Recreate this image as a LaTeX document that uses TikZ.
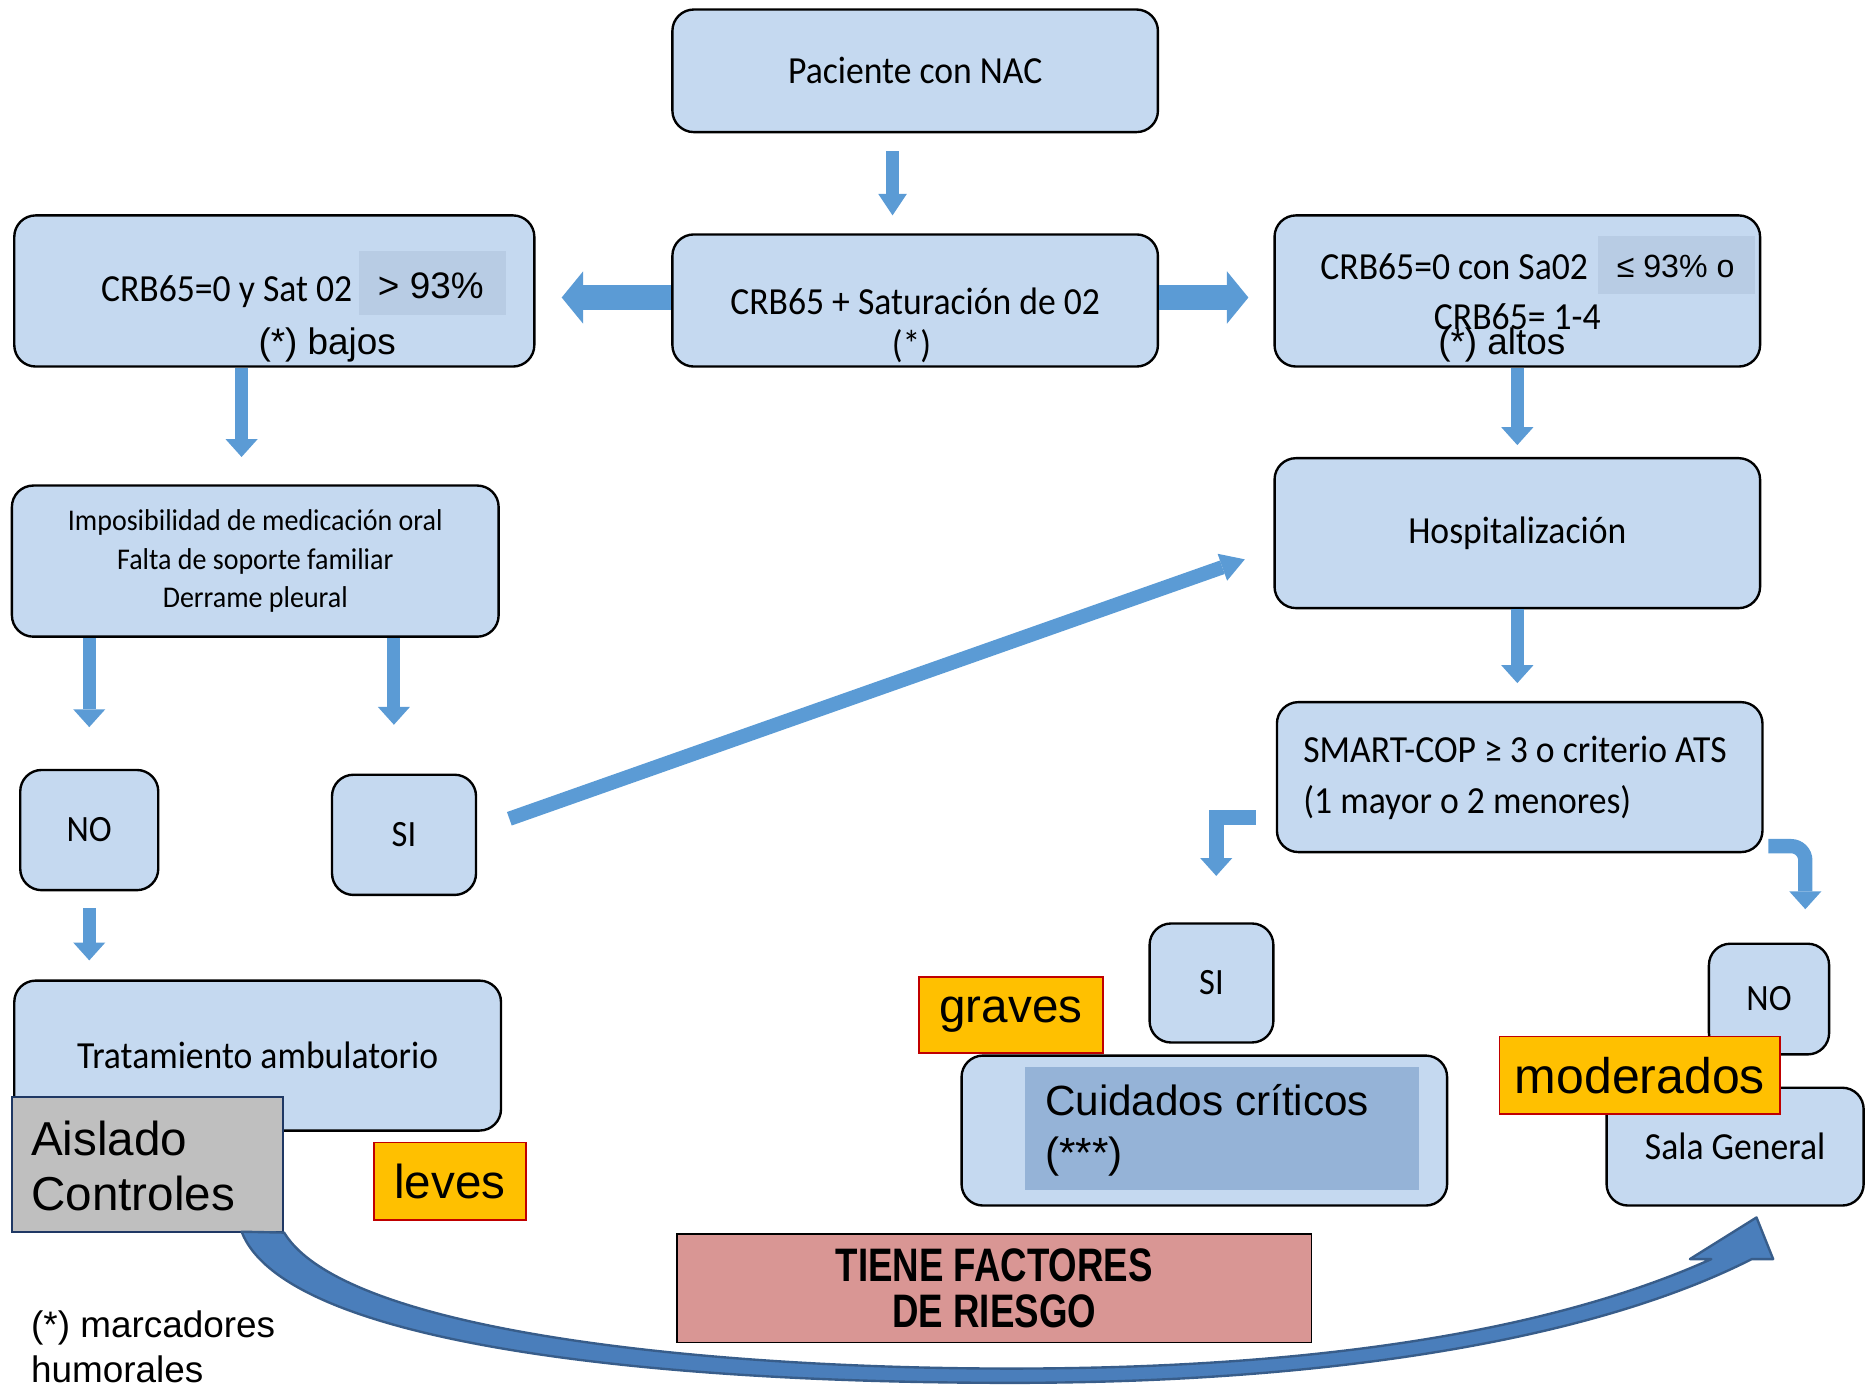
\documentclass[tikz,border=0pt]{standalone}
\usepackage{fontspec}
\setmainfont{Liberation Sans}
\newfontfamily\calfont{Carlito}[FakeStretch=0.93]
\newfontfamily\narrowbold{Liberation Sans}[FakeStretch=0.78]
\usetikzlibrary{arrows.meta,calc}
\definecolor{boxblue}{RGB}{197,217,240}
\definecolor{hiblue}{RGB}{184,204,228}
\definecolor{inblue}{RGB}{149,179,215}
\definecolor{arrblue}{RGB}{91,155,213}
\definecolor{bigblue}{RGB}{74,126,187}
\definecolor{bigedge}{RGB}{56,93,138}
\definecolor{orangefill}{RGB}{255,192,0}
\definecolor{redline}{RGB}{192,0,0}
\definecolor{grayfill}{RGB}{191,191,191}
\definecolor{navyline}{RGB}{31,56,100}
\definecolor{rosefill}{RGB}{217,150,148}
\newcommand{\fsz}[2]{\fontsize{#1}{#2}\selectfont}
\tikzset{
 box/.style={draw=black, line width=2pt, fill=boxblue, rounded corners=18pt, inner sep=0pt, align=center, font=\calfont\fsz{32.2}{38}},
 ctxt/.style={inner sep=0pt, font=\calfont\fsz{32.2}{38}},
 atxt/.style={inner sep=0pt, font=\fsz{31}{37}},
 tag/.style={draw=redline, line width=1.5pt, fill=orangefill, inner sep=0pt, font=\fsz{40}{48}},
 barrow/.style={draw=arrblue, line width=11pt, -{Triangle[width=27pt,length=15pt,line width=0pt]}},
 harrow/.style={draw=arrblue, line width=21pt, -{Triangle[width=44pt,length=18pt,line width=0pt]}},
}
\begin{document}
\begin{tikzpicture}[x=1pt,y=-1pt]
\useasboundingbox (0,0) rectangle (1568,1167);

% top
\node[box, minimum width=408pt, minimum height=103pt] (pac) at (769,59.5) {Paciente con NAC};
\node[box, minimum width=408pt, minimum height=111pt] (crb) at (769,252.5) {};
\node[ctxt] (crbt) at (769,253) {CRB65 + Saturación de 02};
\node[ctxt] (crbs) at (766,291) {(*)};

% left CRB box
\node[box, minimum width=437pt, minimum height=127pt] (lbox) at (230.5,244.5) {};
\node[fill=hiblue, minimum width=123pt, minimum height=54pt, inner sep=0pt] (lhi) at (363.5,238) {};
\node[ctxt] (lt1) at (190.5,245) {CRB65=0 y Sat 02};
\node[atxt] (lt2) at (362,240) {> 93\%};
\node[atxt] (lt3) at (275,290) {(*) bajos};

% right CRB box
\node[box, minimum width=408pt, minimum height=127pt] (rbox) at (1275,244.5) {};
\node[fill=hiblue, minimum width=132pt, minimum height=49pt, inner sep=0pt] (rhi) at (1409,222.5) {};
\node[ctxt] (rt1) at (1222,224) {CRB65=0 con Sa02};
\node[inner sep=0pt, font=\fsz{27}{32}] (rt2) at (1408,224) {≤ 93\% o};
\node[ctxt] (rt3) at (1275,266) {CRB65= 1-4};
\node[atxt] (rt4) at (1262,290) {(*) altos};

% second row
\node[box, minimum width=409pt, minimum height=127pt, font=\calfont\fsz{25.3}{32.5}] (imp) at (214.5,471.5) {Imposibilidad de medicación oral\\Falta de soporte familiar\\Derrame pleural};
\node[box, minimum width=408pt, minimum height=126pt] (hosp) at (1275,448) {Hospitalización};
\node[box, minimum width=408pt, minimum height=126pt] (smart) at (1277,653) {};
\node[ctxt, align=left, anchor=west, font=\calfont\fsz{32.2}{43}] (smartt) at (1095,654) {SMART-COP ≥ 3 o criterio ATS\\(1 mayor o 2 menores)};

\node[box, minimum width=116pt, minimum height=101pt, font=\calfont\fsz{31.2}{36}] (no1) at (75,697.5) {NO};
\node[box, minimum width=121pt, minimum height=101pt, font=\calfont\fsz{31.2}{36}] (si1) at (339.5,701.5) {SI};

% bottom left
\node[box, minimum width=409pt, minimum height=126pt] (trat) at (216.5,887) {Tratamiento ambulatorio};
\node[draw=navyline, line width=1.5pt, fill=grayfill, minimum width=228pt, minimum height=113pt, inner sep=0pt] (ais) at (124,978.5) {};
\node[inner sep=0pt, anchor=west, align=left, font=\fsz{40}{46}] (aist) at (26,980) {Aislado\\Controles};
\node[tag, minimum width=128pt, minimum height=65pt] (leves) at (378,992.5) {leves};

% bottom middle
\node[box, minimum width=104pt, minimum height=100pt, font=\calfont\fsz{31.2}{36}] (si2) at (1018,826) {SI};
\node[box, minimum width=408pt, minimum height=126pt] (cuid) at (1012,950) {};
\node[fill=inblue, minimum width=331pt, minimum height=103pt, inner sep=0pt] (cuidin) at (1026.5,948.5) {};
\node[inner sep=0pt, anchor=west, align=left, font=\fsz{35.5}{44}] (cuidt) at (878,950) {Cuidados críticos\\(***)};
\node[tag, minimum width=155pt, minimum height=64pt] (graves) at (849.5,853) {graves};

% bottom right
\node[box, minimum width=101pt, minimum height=93pt, font=\calfont\fsz{31.2}{36}] (no2) at (1486.5,839.5) {NO};
\node[box, minimum width=216pt, minimum height=99pt] (sala) at (1458,963.5) {Sala General};
\node[tag, minimum width=236pt, minimum height=65pt, font=\fsz{42}{50}] (mod) at (1378,903.5) {moderados};

\node[draw=black, line width=1.5pt, fill=rosefill, minimum width=533pt, minimum height=91pt, inner sep=0pt, align=center, font=\narrowbold\bfseries\fsz{39.5}{38}] (tiene) at (835.5,1082.5) {TIENE FACTORES\\DE RIESGO};

\node[inner sep=0pt, anchor=west, align=left, font=\fsz{31}{38}] (foot) at (26,1132) {(*) marcadores\\humorales};

% arrows
\draw[barrow, -{Triangle[width=24pt,length=18pt,line width=0pt]}, shorten <=15pt, shorten >=15pt] ([xshift=-19pt]pac.south) -- ([xshift=-19pt]crb.north);
\draw[harrow, shorten >=22pt] ([yshift=2.5pt]crb.west) -- ([yshift=-5.5pt]lbox.east);
\draw[harrow, shorten >=21pt] ([yshift=2.5pt]crb.east) -- ([yshift=-5.5pt]rbox.west);
\draw[barrow, shorten >=23pt] ([xshift=-27.5pt]lbox.south) -- ([xshift=-11.5pt]imp.north);
\draw[barrow, shorten >=10pt] (rbox.south) -- (hosp.north);
\draw[barrow, shorten >=15pt] (hosp.south) -- ([xshift=-2pt]smart.north);
\draw[barrow, shorten >=35pt] ([xshift=-139.5pt]imp.south) -- (no1.north);
\draw[barrow, shorten >=41pt] ([xshift=116.5pt]imp.south) -- ([xshift=-8.5pt]si1.north);
\draw[barrow, shorten <=14pt, shorten >=16pt] (no1.south) -- ([xshift=-141.5pt]trat.north);
\draw[barrow, line width=12pt, -{Triangle[width=24pt,length=20pt,line width=0pt]}] ($(si1.east)+(27,-13.5)$) -- ($(hosp.west)+(-24,22)$);
\draw[barrow, line width=13pt, line join=miter] ($(smart.west)+(-17,34)$) -| ($(si2.north)+(4,-39)$);
\draw[barrow, line width=12pt, rounded corners=12pt] ($(smart.east)+(4,58)$) -| ($(no2.north)+(30.5,-28)$);

% big curved arrow from Aislado to Sala General
\filldraw[fill=bigblue, draw=bigedge, line width=2pt, line join=round]
 (ais.south east) .. controls (290,1120) and (600,1150) .. (850,1150)
 .. controls (1100,1150) and (1300,1120) .. (1438,1058)
 -- (1420,1058) -- (1476,1023) -- (1490,1058) -- (1472,1058)
 .. controls (1330,1130) and (1100,1162) .. (850,1162)
 .. controls (550,1162) and (240,1130) .. (203,1035) -- cycle;
\end{tikzpicture}
\end{document}
